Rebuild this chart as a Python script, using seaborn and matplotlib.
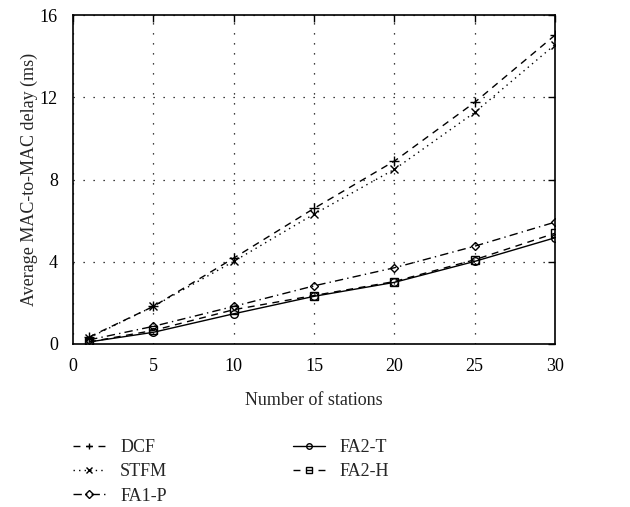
import matplotlib
matplotlib.use("Agg")
import matplotlib.pyplot as plt
import seaborn as sns
import pandas as pd

stations = [1, 5, 10, 15, 20, 25, 30]
dcf = [0.34, 1.83, 4.18, 6.6, 8.9, 11.76, 15.03]
stfm = [0.3, 1.83, 4.02, 6.32, 8.5, 11.27, 14.57]
fa1_p = [0.2, 0.86, 1.83, 2.83, 3.71, 4.76, 5.93]
fa2_t = [0.1, 0.57, 1.47, 2.32, 3.0, 4.02, 5.17]
fa2_h = [0.1, 0.66, 1.67, 2.36, 3.04, 4.1, 5.39]

series_names = ["DCF", "STFM", "FA1-P", "FA2-T", "FA2-H"]
series_values = [dcf, stfm, fa1_p, fa2_t, fa2_h]

rows = []
for name, vals in zip(series_names, series_values):
    for x, y in zip(stations, vals):
        rows.append({"Stations": x, "Delay": y, "Scheme": name})
df = pd.DataFrame(rows)

sns.set_theme(style="white")
plt.rcParams["font.family"] = ["Liberation Serif", "DejaVu Serif"]

fig = plt.figure(figsize=(6.3, 5.07), dpi=100)
ax = fig.add_axes([0.116, 0.3215, 0.765, 0.6485])

styles = {
    "DCF": dict(ls=(0, (5, 4)), marker="+", ms=7),
    "STFM": dict(ls=(0, (1, 3)), marker="x", ms=6),
    "FA1-P": dict(ls=(0, (6, 3, 1, 3)), marker="D", ms=4.5),
    "FA2-T": dict(ls="-", marker="o", ms=5.5),
    "FA2-H": dict(ls=(0, (5, 4)), marker="s", ms=5.5),
}

for name in series_names:
    sub = df[df["Scheme"] == name]
    st = styles[name]
    sns.lineplot(data=sub, x="Stations", y="Delay", ax=ax, color="black",
                 linestyle=st["ls"], marker=st["marker"], markersize=st["ms"],
                 markerfacecolor="none", markeredgecolor="black",
                 markeredgewidth=1.0, linewidth=1.0, label=name)

if ax.get_legend() is not None:
    ax.get_legend().remove()

ax.set_xlim(0, 30)
ax.set_ylim(0, 16)
ax.set_xticks([0, 5, 10, 15, 20, 25, 30])
ax.set_yticks([0, 4, 8, 12, 16])
ax.grid(True, color="black", linestyle=(0, (1, 7)), linewidth=0.9)
for sp in ax.spines.values():
    sp.set_color("black")
    sp.set_linewidth(1.2)
ax.tick_params(axis="both", which="both", direction="in", top=True, right=True,
               length=5, width=1, labelsize=13, colors="black")
ax.tick_params(axis="x", pad=10)
ax.tick_params(axis="y", pad=11)
ax.set_xlabel("Number of stations", fontsize=13, labelpad=12)
ax.set_ylabel("Average MAC-to-MAC delay (ms)", fontsize=13, labelpad=1)

handles, labels = ax.get_legend_handles_labels()
leg = fig.legend(handles, labels, ncol=2, loc="upper left",
                 bbox_to_anchor=(0.116, 0.134), frameon=False, fontsize=13,
                 handlelength=1.8, handletextpad=0.8, columnspacing=6.95,
                 labelspacing=0.4, borderpad=0, borderaxespad=0)
for h in leg.legend_handles:
    h.set_markersize(4)

fig.savefig("out.png", dpi=100)
